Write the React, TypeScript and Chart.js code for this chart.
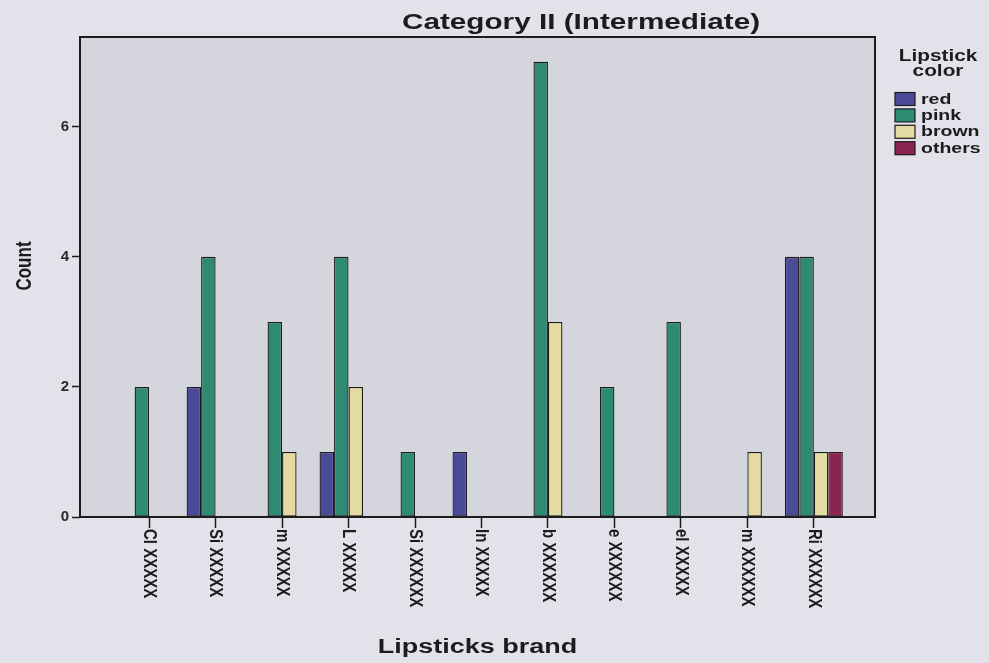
import React, { useEffect, useRef } from "react";
import { Chart, registerables } from "chart.js";

Chart.register(...registerables);

// ---- data ----
const brands = [
  "Cl XXXXX",
  "Si XXXXX",
  "m XXXXX",
  "L XXXXX",
  "Si XXXXXX",
  "In XXXXX",
  "b XXXXXX",
  "e XXXXXX",
  "el XXXXX",
  "m XXXXXX",
  "Ri XXXXXX",
];
const seriesNames = ["red", "pink", "brown", "others"];
const redCounts = [0, 2, 0, 1, 0, 1, 0, 0, 0, 0, 4];
const pinkCounts = [2, 4, 3, 4, 1, 0, 7, 2, 3, 0, 4];
const brownCounts = [0, 0, 1, 2, 0, 0, 3, 0, 0, 1, 1];
const otherCounts = [0, 0, 0, 0, 0, 0, 0, 0, 0, 0, 1];
const yTickValues = [0, 2, 4, 6];

const chartTitle = "Category II (Intermediate)";
const xAxisTitle = "Lipsticks brand";
const yAxisTitle = "Count";
const legendTitle = ["Lipstick", "color"];

// ---- styles ----
const seriesColors = ["#4b4a99", "#2f8a72", "#e4dba3", "#8a2552"];
const PAGE_BG = "#e3e1ea";
const PLOT_BG = "#d5d5dd";
const INK = "#1c1c1c";
const FONT = "'Liberation Sans', Arial, sans-serif";
const SX = 1.35;

function stretchedText(
  ctx: CanvasRenderingContext2D,
  text: string,
  x: number,
  y: number,
  size: number,
  align: CanvasTextAlign,
  baseline: CanvasTextBaseline,
  rot = 0,
  sx = SX
) {
  ctx.save();
  ctx.translate(x, y);
  ctx.scale(sx, 1);
  if (rot) ctx.rotate(rot);
  ctx.font = `bold ${size}px ${FONT}`;
  ctx.textAlign = align;
  ctx.textBaseline = baseline;
  ctx.fillStyle = INK;
  ctx.fillText(text, 0, 0);
  ctx.restore();
}

const decorPlugin = {
  id: "decor",
  beforeDraw(chart: any) {
    const { ctx, chartArea: a, width, height } = chart;
    ctx.save();
    ctx.fillStyle = PAGE_BG;
    ctx.fillRect(0, 0, width, height);
    ctx.fillStyle = PLOT_BG;
    ctx.fillRect(a.left, a.top, a.right - a.left, a.bottom - a.top);
    ctx.restore();
  },
  afterDatasetsDraw(chart: any) {
    const { ctx, chartArea: a } = chart;
    ctx.save();
    ctx.strokeStyle = INK;
    ctx.lineWidth = 2;
    ctx.strokeRect(a.left, a.top, a.right - a.left, a.bottom - a.top);
    ctx.restore();
  },
  afterDraw(chart: any) {
    const { ctx, chartArea: a } = chart;
    const xScale = chart.scales.x;
    // title
    stretchedText(ctx, chartTitle, 581, 29, 22, "center", "alphabetic");
    // x tick labels, rotated clockwise
    brands.forEach((b, i) => {
      const px = xScale.getPixelForValue(i);
      stretchedText(ctx, b, px, a.bottom + 12, 15, "left", "middle", Math.PI / 2, 1.25);
    });
    // axis titles
    stretchedText(ctx, xAxisTitle, (a.left + a.right) / 2, 647, 20, "center", "middle");
    stretchedText(ctx, yAxisTitle, 25, 266, 17, "center", "middle", -Math.PI / 2);
    // legend
    const lx = 938;
    stretchedText(ctx, legendTitle[0], lx, 61, 16, "center", "alphabetic", 0, 1.3);
    stretchedText(ctx, legendTitle[1], lx, 76, 16, "center", "alphabetic", 0, 1.3);
    seriesNames.forEach((name, i) => {
      const cy = 99 + i * 16.4;
      ctx.save();
      ctx.fillStyle = seriesColors[i];
      ctx.fillRect(895, cy - 6.5, 20, 13);
      ctx.strokeStyle = INK;
      ctx.lineWidth = 1.2;
      ctx.strokeRect(895, cy - 6.5, 20, 13);
      ctx.restore();
      stretchedText(ctx, name, 921, cy + 0.5, 15, "left", "middle", 0, 1.3);
    });
  },
};

export default function App() {
  const canvasRef = useRef<HTMLCanvasElement | null>(null);

  useEffect(() => {
    const canvas = canvasRef.current;
    if (!canvas) return;
    const seriesData = [redCounts, pinkCounts, brownCounts, otherCounts];
    const chart = new Chart(canvas, {
      type: "bar",
      data: {
        datasets: seriesNames.map((name, s) => ({
          label: name,
          data: seriesData[s].map((v, i) => ({ x: i, y: v === 0 ? null : v })),
          backgroundColor: seriesColors[s],
          borderColor: INK,
          borderWidth: 1.3,
          borderSkipped: false,
          barPercentage: 1,
          categoryPercentage: 0.872,
        })),
      },
      options: {
        responsive: false,
        animation: false,
        devicePixelRatio: 1,
        layout: { padding: { left: 0, right: 114, top: 37, bottom: 0 } },
        plugins: {
          legend: { display: false },
          title: { display: false },
          tooltip: { enabled: false },
        },
        scales: {
          x: {
            type: "linear",
            offset: false,
            min: -1.04,
            max: 10.92,
            afterBuildTicks: (scale: any) => {
              scale.ticks = brands.map((_, i) => ({ value: i }));
            },
            afterFit: (scale: any) => {
              scale.height = 146;
            },
            ticks: { display: false },
            grid: {
              offset: false,
              drawOnChartArea: false,
              drawTicks: true,
              tickLength: 11,
              tickColor: INK,
              tickWidth: 1.5,
            },
            border: { display: false },
          },
          y: {
            type: "linear",
            min: 0,
            max: 7.38,
            afterBuildTicks: (scale: any) => {
              scale.ticks = yTickValues.map((v) => ({ value: v }));
            },
            afterFit: (scale: any) => {
              scale.width = 80;
            },
            ticks: {
              color: "#2a2a2a",
              padding: 3,
              font: { family: FONT, size: 15, weight: "bold" },
            },
            grid: {
              drawOnChartArea: false,
              drawTicks: true,
              tickLength: 8,
              tickColor: INK,
              tickWidth: 1.5,
            },
            border: { display: false },
          },
        },
      },
      plugins: [decorPlugin],
    } as any);
    return () => chart.destroy();
  }, []);

  return (
    <div style={{ position: "fixed", left: 0, top: 0, width: 989, height: 663, background: PAGE_BG }}>
      <canvas ref={canvasRef} width={989} height={663} style={{ display: "block", width: 989, height: 663 }} />
    </div>
  );
}
